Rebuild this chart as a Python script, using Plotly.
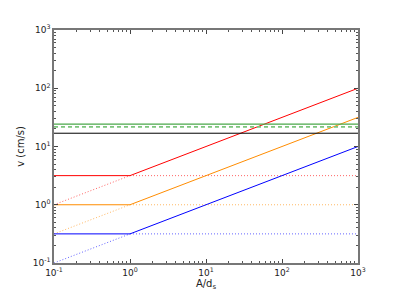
import plotly.graph_objects as go

# Data
x_left = [0.1, 1.0]
x_right = [1.0, 1000.0]

red_flat = [3.16, 3.16]
red_rise = [3.16, 100.0]
red_dot_rise = [1.0, 3.16]
red_dot_flat = [3.16, 3.16]

orange_flat = [1.0, 1.0]
orange_rise = [1.0, 31.6]
orange_dot_rise = [0.316, 1.0]
orange_dot_flat = [1.0, 1.0]

blue_flat = [0.316, 0.316]
blue_rise = [0.316, 10.0]
blue_dot_rise = [0.1, 0.316]
blue_dot_flat = [0.316, 0.316]

x_full = [0.1, 1000.0]
black_level = [16.9, 16.9]
green_level = [24.2, 24.2]
green_dash_level = [21.7, 21.7]

tick_vals = [0.1, 1, 10, 100, 1000]
tick_text = ["10<sup>-1</sup>", "10<sup>0</sup>", "10<sup>1</sup>", "10<sup>2</sup>", "10<sup>3</sup>"]
minor_vals = [m * d for d in [0.1, 1, 10, 100] for m in range(2, 10)]

fig = go.Figure()

def add(x, y, color, dash="solid", width=1.0, opacity=1.0):
    fig.add_trace(go.Scatter(x=x, y=y, mode="lines", opacity=opacity,
                             line=dict(color=color, dash=dash, width=width),
                             showlegend=False, hoverinfo="skip"))

RED, ORANGE, BLUE = "#ff0000", "#ff8c00", "#0000ff"
DOT = "1px,2px"

add(x_left, red_dot_rise, RED, DOT, 1.0, 0.6)
add(x_right, red_dot_flat, RED, DOT, 1.0, 0.6)
add(x_left, orange_dot_rise, ORANGE, DOT, 1.0, 0.6)
add(x_right, orange_dot_flat, ORANGE, DOT, 1.0, 0.6)
add(x_left, blue_dot_rise, BLUE, DOT, 1.0, 0.6)
add(x_right, blue_dot_flat, BLUE, DOT, 1.0, 0.6)

add(x_left, red_flat, RED)
add(x_right, red_rise, RED)
add(x_left, orange_flat, ORANGE)
add(x_right, orange_rise, ORANGE)
add(x_left, blue_flat, BLUE)
add(x_right, blue_rise, BLUE)

add(x_full, black_level, "#000000", "solid", 1.0)
add(x_full, green_level, "#4aa84a", "solid", 1.3)
add(x_full, green_dash_level, "#7cc47c", "4px,3px", 1.8)

axis_common = dict(
    type="log", range=[-1, 3], showgrid=False, zeroline=False,
    showline=True, linecolor="#777", linewidth=1.5, mirror="allticks",
    ticks="inside", ticklen=4, tickcolor="#444", tickwidth=1,
    tickvals=tick_vals, ticktext=tick_text,
    tickfont=dict(family="DejaVu Sans", size=9, color="#222"),
    minor=dict(ticks="inside", ticklen=2, tickcolor="#555", tickwidth=1,
               tickvals=minor_vals, showgrid=False),
)

fig.update_layout(
    width=391, height=291,
    margin=dict(l=43, r=41, t=22, b=31),
    paper_bgcolor="white", plot_bgcolor="white",
    xaxis=dict(axis_common, title=dict(text="A/d<sub>s</sub>", standoff=2,
               font=dict(family="DejaVu Sans", size=10, color="#222"))),
    yaxis=dict(axis_common, title=dict(text="v (cm/s)", standoff=6,
               font=dict(family="DejaVu Sans", size=10, color="#222"))),
)

fig.write_html("out.html")
